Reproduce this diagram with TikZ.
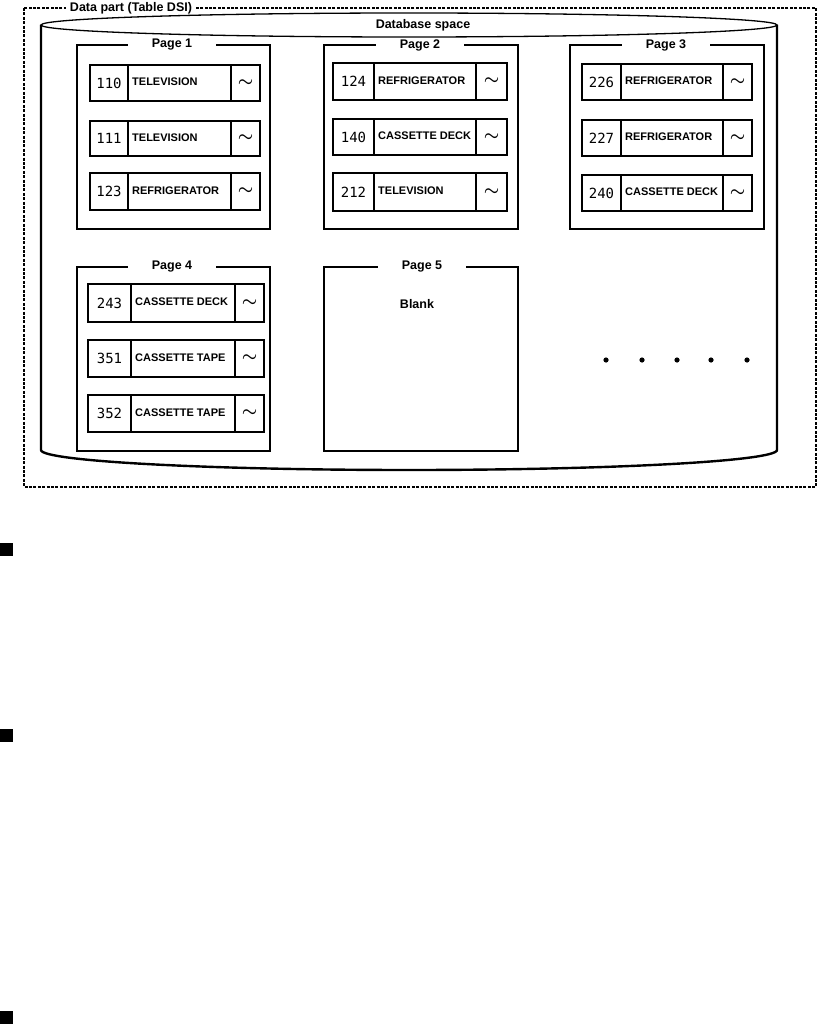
\documentclass[tikz,border=0pt]{standalone}
\usepackage{fontspec}
\setmainfont{Liberation Sans}
\newfontfamily\monof{DejaVu Sans Mono}
\tikzset{
  x=1pt, y=-1pt,
  frame/.style={line width=1.4pt, dash pattern=on 3pt off 1.4pt},
  cyl/.style={line width=2.4pt},
  cyltop/.style={line width=1.3pt},
  pagebox/.style={line width=2pt},
  rowline/.style={line width=2.2pt},
  divline/.style={line width=1.4pt},
  pagetitle/.style={fill=white, inner xsep=0pt, inner ysep=1pt, minimum width=88pt, font=\bfseries\fontsize{12.5}{13}\selectfont},
  numtxt/.style={inner sep=0pt, font=\monof\fontsize{14}{14}\selectfont},
  nametxt/.style={anchor=west, inner sep=0pt, font=\bfseries\fontsize{11}{12}\selectfont},
  tiltxt/.style={inner sep=0pt, font=\boldmath\fontsize{18}{18}\selectfont},
  lbl/.style={inner sep=0pt, font=\bfseries\fontsize{12.5}{13}\selectfont}
}
\newcommand\rrow[9]{%
  \draw[rowline] (#2,#6) rectangle (#5,#7);
  \draw[divline] (#3,#6) -- (#3,#7) (#4,#6) -- (#4,#7);
  \node[numtxt] (#1n) at ({(#2+#3)/2},{(#6+#7)/2}) {#8};
  \node[nametxt] (#1t) at ({#3+4},{(#6+#7)/2-1}) {#9};
  \node[tiltxt] (#1s) at ({(#4+#5)/2},{(#6+#7)/2}) {$\sim$};
}
\begin{document}
\begin{tikzpicture}
\useasboundingbox (0,0) rectangle (818,1024);
% outer dashed frame
\draw[frame] (24,8) rectangle (816,487);
\node[fill=white, inner xsep=4pt, inner ysep=1pt, font=\bfseries\fontsize{12.5}{13}\selectfont] (dp) at (131,8) {Data part (Table DSI)};
% cylinder
\draw[cyl] (41,25) -- (41,450) arc[start angle=180, end angle=0, x radius=368, y radius=20] -- (777,25);
\draw[cyltop, fill=white] (409,25) ellipse [x radius=368, y radius=12];
\node[inner sep=0pt, font=\bfseries\fontsize{12.5}{13}\selectfont] (dbs) at (423,25) {Database space};
% page boxes
\draw[pagebox] (77,45) rectangle (270,229);
\draw[pagebox] (324,45) rectangle (518,229);
\draw[pagebox] (570,45) rectangle (764,229);
\draw[pagebox] (77,267) rectangle (270,451);
\draw[pagebox] (324,267) rectangle (518,451);
\node[pagetitle] (p1) at (172,45) {Page 1};
\node[pagetitle] (p2) at (420,45) {Page 2};
\node[pagetitle] (p3) at (666,45) {Page 3};
\node[pagetitle] (p4) at (172,267) {Page 4};
\node[pagetitle] (p5) at (422,267) {Page 5};
\node[lbl] (blank) at (417,304) {Blank};
% rows page 1
\rrow{a1}{90}{128}{231}{260}{65}{101}{110}{TELEVISION}
\rrow{a2}{90}{128}{231}{260}{121}{156}{111}{TELEVISION}
\rrow{a3}{90}{128}{231}{260}{173}{210}{123}{REFRIGERATOR}
% rows page 2
\rrow{b1}{333}{374}{476}{507}{63}{100}{124}{REFRIGERATOR}
\rrow{b2}{333}{374}{476}{507}{119}{155}{140}{CASSETTE DECK}
\rrow{b3}{333}{374}{476}{507}{173}{211}{212}{TELEVISION}
% rows page 3
\rrow{c1}{582}{621}{723}{752}{64}{100}{226}{REFRIGERATOR}
\rrow{c2}{582}{621}{723}{752}{120}{156}{227}{REFRIGERATOR}
\rrow{c3}{582}{621}{723}{752}{175}{211}{240}{CASSETTE DECK}
% rows page 4
\rrow{d1}{88}{131}{235}{264}{284}{322}{243}{CASSETTE DECK}
\rrow{d2}{88}{131}{235}{264}{340}{377}{351}{CASSETTE TAPE}
\rrow{d3}{88}{131}{235}{264}{395}{432}{352}{CASSETTE TAPE}
% dots
\foreach \i/\xx in {1/606,2/642,3/677,4/711,5/747}
  \fill (\xx,360) circle[radius=2.6pt];
% bullets
\fill (0,543) rectangle (13,556);
\fill (0,729) rectangle (13,742);
\fill (0,1011) rectangle (13,1024);
\end{tikzpicture}
\end{document}
